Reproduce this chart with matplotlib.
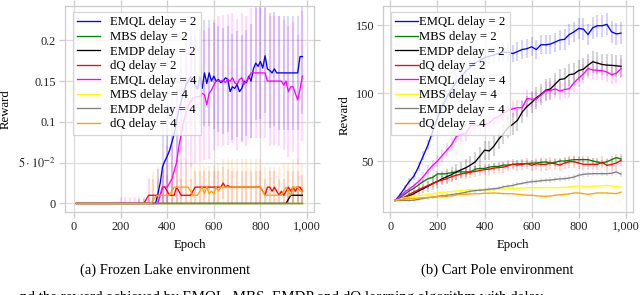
import numpy as np
import matplotlib
matplotlib.use("Agg")
import matplotlib.pyplot as plt

plt.rcParams['font.family'] = ['Liberation Serif', 'DejaVu Serif']
plt.rcParams['mathtext.fontset'] = 'stix'

# ---------------- data: Frozen Lake (epochs 10..980 step 10) ----------------
fl_epochs = np.arange(10, 990, 10)

fl_emql2 = [0.0]*35 + [0.012, 0.025, 0.045, 0.052, 0.058, 0.065, 0.075, 0.085, 0.1, 0.115,
                       0.125, 0.135, 0.145, 0.15, 0.155, 0.152, 0.145, 0.14, 0.155, 0.141,
                       0.16, 0.147, 0.16, 0.15, 0.156, 0.15, 0.152, 0.148, 0.15, 0.154,
                       0.152, 0.137, 0.143, 0.141, 0.146, 0.137, 0.141, 0.15, 0.148, 0.156,
                       0.15, 0.165, 0.172, 0.168, 0.174, 0.166, 0.181, 0.165, 0.163, 0.16,
                       0.165, 0.16] + [0.16]*9 + [0.18, 0.18]
fl_mbs2 = [0.0]*98
fl_emdp2 = [0.0]*91 + [0.005] + [0.01]*6
fl_dq2 = [0.0]*30 + [0.005] + [0.01]*6 + [0.02, 0.02, 0.015, 0.01, 0.01, 0.01, 0.02, 0.015, 0.01] \
    + [0.01]*4 + [0.015] + [0.02]*12 + [0.025, 0.02, 0.022] + [0.02]*14 \
    + [0.015, 0.01, 0.02, 0.02, 0.015, 0.02, 0.015, 0.01, 0.015, 0.01, 0.015, 0.02, 0.015,
       0.02, 0.015, 0.02, 0.02, 0.015]
fl_emql4 = [0.0]*36 + [0.01, 0.02, 0.02, 0.02, 0.025, 0.03, 0.04, 0.05, 0.07, 0.085,
                       0.1, 0.11, 0.119, 0.125, 0.129, 0.13, 0.131, 0.131, 0.135, 0.133,
                       0.121, 0.135, 0.139, 0.145, 0.15, 0.15, 0.15, 0.151, 0.148, 0.152,
                       0.15, 0.154, 0.148, 0.146, 0.152, 0.154, 0.146, 0.15, 0.154, 0.16] \
    + [0.16]*6 + [0.15]*7 + [0.145, 0.15, 0.137, 0.143, 0.143, 0.135, 0.127, 0.14, 0.156]
fl_mbs4 = [0.0]*98
fl_emdp4 = [0.0]*98
fl_dq4 = [0.0]*33 + [0.004, 0.008] + [0.01]*6 + [0.015] + [0.02]*7 + [0.015] + [0.01]*3 \
    + [0.015, 0.02, 0.012, 0.02, 0.012, 0.015, 0.012, 0.02, 0.015, 0.02] + [0.02]*17 \
    + [0.015] + [0.01]*8 + [0.015, 0.02, 0.015, 0.01, 0.02, 0.02, 0.02, 0.015, 0.015]

fl_emql2_err = [0.0]*26 + [0.005]*7 + [0.01, 0.02, 0.03, 0.04, 0.05, 0.055] + [0.06]*16 + [0.065]*20 + [0.07]*23
fl_mbs2_err = [0.0]*98
fl_emdp2_err = [0.0]*91 + [0.01]*7
fl_dq2_err = [0.0]*30 + [0.02]*68
fl_emql4_err = [0.0]*19 + [0.008]*16 + [0.01, 0.02, 0.03, 0.04, 0.05, 0.06] + [0.08]*57
fl_mbs4_err = [0.0]*98
fl_emdp4_err = [0.0]*98
fl_dq4_err = [0.0]*33 + [0.035]*65

# ---------------- data: Cart Pole (epochs 20..980 step 20) ----------------
cp_epochs = np.arange(20, 1000, 20)

cp_emql2 = [21, 25, 30, 35, 39, 46, 54, 62, 72, 82, 90, 97, 103, 108, 112, 116, 119, 122, 124, 126,
            127, 128, 129, 130, 130, 129, 130.5, 132, 132.6, 134, 132, 135.5, 135.5, 136, 137.5, 139,
            139.5, 143, 145, 147.5, 147, 143, 148, 149.5, 149.5, 150.5, 145, 143.5, 144]
cp_mbs2 = [21, 23, 25.5, 28, 30, 32.5, 35, 37, 38, 40.5, 40.5, 40.7, 41.5, 42, 42, 42, 42, 44, 44.5,
           44.5, 45.5, 46, 46, 47, 47, 47.5, 48, 48, 48, 48.5, 48.5, 49, 49.3, 48.5, 49, 50, 50, 50.5,
           51, 51, 51, 51, 50, 49.3, 48.5, 49.5, 51, 52.5, 51.5]
cp_emdp2 = [21, 22, 23, 24.5, 26, 28, 29.7, 31.5, 33.5, 35, 37, 38.5, 40, 42, 43.5, 45, 47, 49.3, 53.5,
            58, 57.4, 61, 66, 70, 74.5, 77, 80, 86, 90, 93, 96.5, 99, 102, 103, 106.5, 110, 110.5,
            113.5, 114, 116.5, 117.5, 120.5, 123, 122, 121, 120.5, 120.4, 120, 119.6]
cp_dq2 = [21, 22, 23.5, 25.5, 27.2, 29, 30.5, 32, 33.5, 35, 36, 37, 38.5, 39.5, 40.5, 41, 41.8, 42.3,
          43, 43.7, 44, 44.8, 45.2, 45.5, 46.5, 47.6, 47, 47.5, 48.3, 46.8, 48, 47.5, 47.5, 48.5, 48,
          47, 48.5, 49.5, 49.5, 48.5, 47.6, 47.6, 47.6, 47.6, 49, 46.8, 47.5, 48.5, 50.5]
cp_emql4 = [21, 24, 27, 29.5, 32, 35, 38.5, 43, 46.8, 50, 54, 58, 62, 68, 69.5, 70, 76, 76.5, 76, 76.5,
            78, 81, 83, 85, 87, 88.5, 89.2, 89.2, 95.9, 95.5, 95.5, 98.5, 101.5, 102, 103, 101.5,
            102.5, 103.2, 107.5, 111, 114, 118, 117, 116.7, 116.5, 115.4, 113.5, 114.5, 118]
cp_mbs4 = [21, 22, 23, 23.5, 24, 24.5, 25, 25.5, 26, 26.5, 27, 27.2, 27.5, 28, 28.5, 28.5, 29, 29, 29,
           29, 28.7, 29, 29.2, 29.5, 29.7, 29.7, 30, 30, 30.4, 30.4, 30.3, 30.5, 30.5, 30.5, 30.4,
           30.5, 30.5, 31, 31.5, 31.5, 31.5, 31.5, 31.5, 31.5, 31.8, 32, 31.5, 31.3, 31]
cp_emdp4 = [21, 21, 21, 21, 21.2, 21.8, 22.5, 23, 23.5, 24, 24.5, 24.8, 25.2, 25.8, 26.3, 27, 27.8,
            28.2, 28.5, 28.8, 29.3, 29.6, 30, 31, 31.5, 32, 33, 33.5, 34.3, 34.8, 35, 35.5, 35.8, 36,
            36.5, 36.8, 37, 37.5, 38.2, 39.5, 40.2, 40.5, 40.7, 40.7, 40.7, 40.7, 41, 42, 40.3]
cp_dq4 = [21, 21.5, 22, 22.3, 22.5, 22.8, 23, 23.2, 23.5, 23.8, 24, 24, 24.5, 25, 25.5, 25.5, 25.8, 26,
          26, 26.3, 26.3, 26.5, 26.3, 26, 26, 26, 25.5, 25.2, 24.8, 24.8, 24.5, 24.2, 24, 24.3, 24.8,
          25.2, 25.5, 25.8, 26.5, 26.5, 26, 25.5, 26, 26.5, 26.5, 26.5, 26.2, 26, 27]

cp_emql2_err = [1, 1.5, 2, 2.5, 3, 3, 3.5, 3.5, 4, 4, 4.5, 4.5, 5, 5, 5, 5.5, 5.5, 6, 6, 6,
                6, 6, 6.5, 6.5, 6.5, 6.5, 7, 7, 7, 7, 7, 7, 7, 7, 7, 7.5, 7.5, 7.5, 7.5, 7.5,
                8, 8, 8, 8, 8, 8, 8, 8, 8]
cp_mbs2_err = [0.5, 0.8, 1, 1.2, 1.5, 1.5, 1.8, 2, 2, 2] + [2]*10 + [2.5]*29
cp_emdp2_err = [0.5, 1, 1.5, 2, 2.5, 3, 3.5, 4, 4.5, 5, 5, 5.5, 5.5, 6, 6, 6.5, 6.5, 7, 7, 7,
                7, 7.5, 7.5, 7.5, 7.5] + [8]*24
cp_dq2_err = [0.5, 0.8, 1, 1.5, 1.5, 2, 2, 2.5, 2.5, 3, 3, 3, 3.5, 3.5, 3.5] + [4]*15 + [4.5]*19
cp_emql4_err = [0.5, 1, 1.5, 2, 2.5, 3, 3.5, 4, 4, 4.5, 4.5, 5, 5, 5, 5.5, 5.5, 5.5, 6, 6, 6] \
    + [6]*12 + [6.5]*8 + [7]*9
cp_mbs4_err = [0.3, 0.5, 0.7] + [1]*46
cp_emdp4_err = [0.3, 0.5, 0.7, 1, 1, 1.2, 1.2, 1.5] + [1.5]*20 + [2]*21
cp_dq4_err = [0.3, 0.5, 0.7] + [0.8]*46

labels = ['EMQL delay = 2', 'MBS delay = 2', 'EMDP delay = 2', 'dQ delay = 2',
          'EMQL delay = 4', 'MBS delay = 4', 'EMDP delay = 4', 'dQ delay = 4']
colors = ['#0000ff', '#008000', '#000000', '#ff0000', '#ff00ff', '#ffff00', '#808080', '#ffa500']

fl_series = [fl_emql2, fl_mbs2, fl_emdp2, fl_dq2, fl_emql4, fl_mbs4, fl_emdp4, fl_dq4]
fl_errs = [fl_emql2_err, fl_mbs2_err, fl_emdp2_err, fl_dq2_err, fl_emql4_err, fl_mbs4_err, fl_emdp4_err, fl_dq4_err]
cp_series = [cp_emql2, cp_mbs2, cp_emdp2, cp_dq2, cp_emql4, cp_mbs4, cp_emdp4, cp_dq4]
cp_errs = [cp_emql2_err, cp_mbs2_err, cp_emdp2_err, cp_dq2_err, cp_emql4_err, cp_mbs4_err, cp_emdp4_err, cp_dq4_err]

xticks = [0, 200, 400, 600, 800, 1000]
xticklabels = ['0', '200', '400', '600', '800', '1,000']
fl_yticks = [0, 0.05, 0.1, 0.15, 0.2]
fl_yticklabels = ['0', r'$5\cdot10^{-2}$', '0.1', '0.15', '0.2']
cp_yticks = [50, 100, 150]
cp_yticklabels = ['50', '100', '150']

# ---------------- figure ----------------
W, H = 640, 295
fig = plt.figure(figsize=(W/100, H/100), dpi=100)

def px_axes(x0, x1, y0, y1):
    return fig.add_axes([x0/W, 1 - y1/H, (x1-x0)/W, (y1-y0)/H])

ax1 = px_axes(65, 314, 6, 212)
ax2 = px_axes(383, 633, 6, 212)

frame_c = '#cccccc'
grid_c = '#dcdcdc'
tick_fs = 8.8

def style(ax):
    for s in ax.spines.values():
        s.set_color(frame_c)
        s.set_linewidth(0.9)
    ax.grid(True, color=grid_c, linewidth=0.9)
    ax.set_axisbelow(True)
    ax.tick_params(direction='out', length=4, width=0.9, color=frame_c,
                   labelsize=tick_fs, labelcolor='#222222', pad=2.5,
                   top=True, right=True)

def draw(ax, x, series, errs, every, clip0, alpha):
    for y, e, c in zip(series, errs, colors):
        y = np.asarray(y, float)
        e = np.asarray(e, float)
        lo = np.minimum(e, y) if clip0 else e
        ax.errorbar(x, y, yerr=[lo, e], fmt='none', ecolor=c, elinewidth=1.5,
                    alpha=alpha, errorevery=every, capsize=0, zorder=2)
    for y, c, lab in zip(series, colors, labels):
        ax.plot(x, y, color=c, lw=0.95, label=lab, zorder=3)

draw(ax1, fl_epochs, fl_series, fl_errs, (1, 2), True, 0.15)
draw(ax2, cp_epochs, cp_series, cp_errs, 1, False, 0.17)

for ax in (ax1, ax2):
    style(ax)
    ax.set_xticks(xticks)
    ax.set_xticklabels(xticklabels)
    ax.set_xlabel('Epoch', fontsize=9.2)
    ax.set_ylabel('Reward', fontsize=9.2)

ax1.set_xlim(-38.6, 1030)
ax1.set_ylim(-0.0105, 0.242)
ax1.set_yticks(fl_yticks)
ax1.set_yticklabels(fl_yticklabels)

ax2.set_xlim(-31.6, 1031)
ax2.set_ylim(12.5, 164)
ax2.set_yticks(cp_yticks)
ax2.set_yticklabels(cp_yticklabels)

ax1.xaxis.set_label_coords(0.5, (212-239)/206)
ax2.xaxis.set_label_coords((513-383)/250, (212-239)/206)
ax1.yaxis.set_label_coords((12-65)/249, 0.5)
ax2.yaxis.set_label_coords((351-383)/250, 0.47)

leg_kw = dict(loc='upper left', fontsize=9.2, frameon=True, fancybox=False,
              framealpha=0.8, edgecolor=frame_c, borderaxespad=0,
              labelspacing=0.2, borderpad=0.35)
l1 = ax1.legend(bbox_to_anchor=((73-65)/249, (212-12)/206), handlelength=1.75,
                handletextpad=0.8, **leg_kw)
l2 = ax2.legend(bbox_to_anchor=((391-383)/250, (212-12)/206), handlelength=1.75,
                handletextpad=0.1, **leg_kw)
for l in (l1, l2):
    l.get_frame().set_linewidth(0.9)
    l.set_zorder(5)

fig.text(165/W, 1 - 270/H, '(a) Frozen Lake environment', ha='center', va='center', fontsize=10.5)
fig.text(497/W, 1 - 270/H, '(b) Cart Pole environment', ha='center', va='center', fontsize=10.5)
fig.text(20/W, 1 - 301/H, 'nd the reward achieved by EMQL, MBS, EMDP and dQ learning algorithm with delay',
         ha='left', va='baseline', fontsize=10.8)

fig.savefig('out.png', dpi=100)
